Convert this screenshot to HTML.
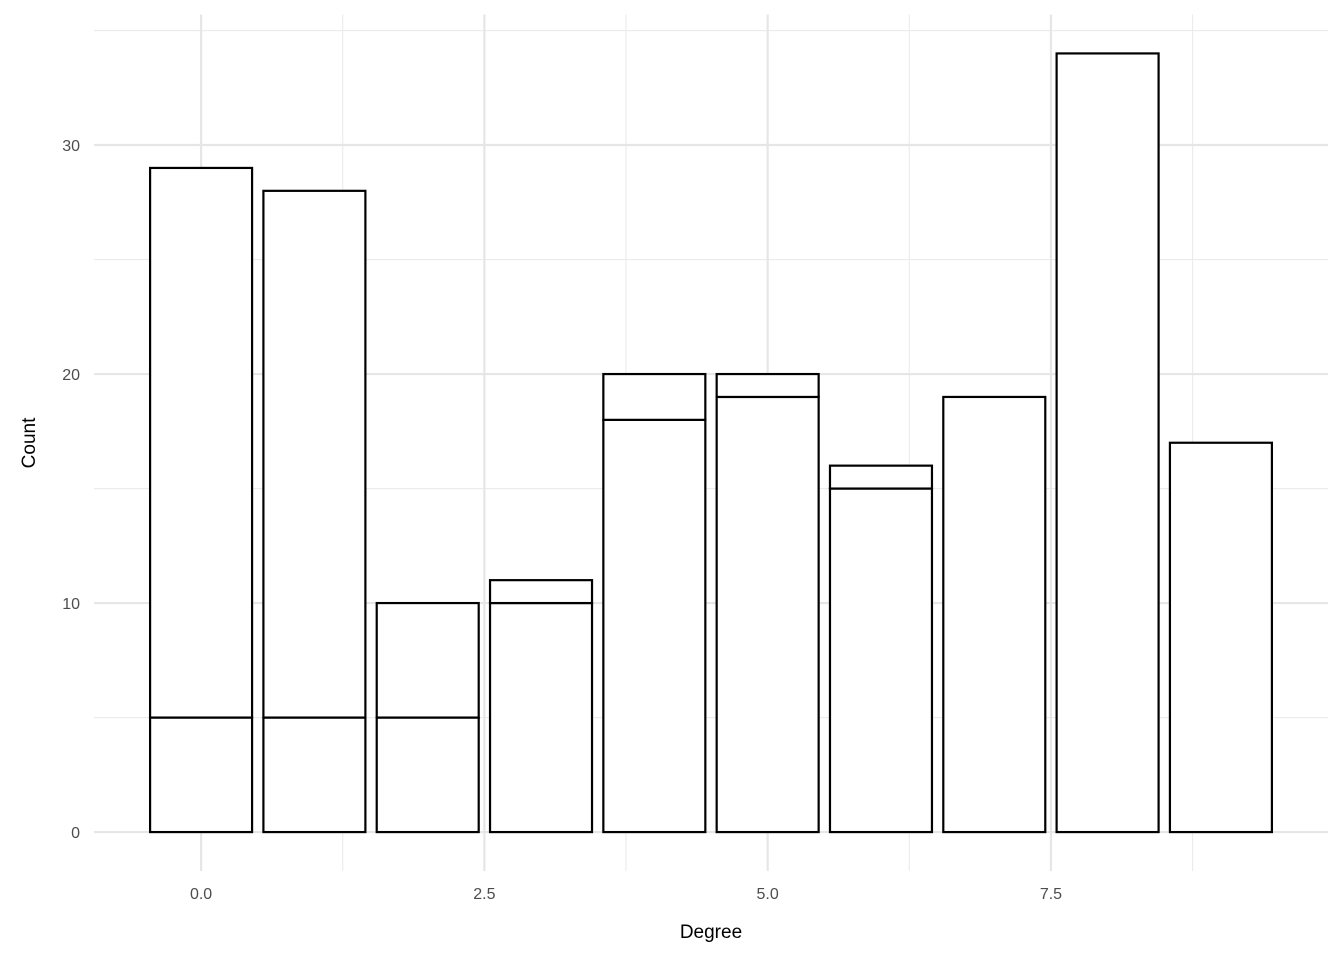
<!DOCTYPE html>
<html><head><meta charset="utf-8"><style>
html,body{margin:0;padding:0;background:#fff;}
svg text{font-family:"Liberation Sans","DejaVu Sans",sans-serif;}
</style></head><body>
<svg id="chart" width="1344" height="960" xmlns="http://www.w3.org/2000/svg">
<g id="grid"></g>
<g id="bars"></g>
<g id="axes"></g>
<text x="711" y="938" font-size="19" text-anchor="middle" fill="#000">Degree</text>
<text x="0" y="0" font-size="19" text-anchor="middle" fill="#000" transform="translate(35,443) rotate(-90)">Count</text>
</svg>
<script>
const categories=[0,1,2,3,4,5,6,7,8,9];
const lowerValues=[5,5,5,10,18,19,15,19,34,17];
const upperValues=[24,23,5,1,2,1,1,0,0,0];
const xTicks=[0,2.5,5,7.5];
const xTickLabels=["0.0","2.5","5.0","7.5"];
const yTicks=[0,10,20,30];
const yTickLabels=["0","10","20","30"];
const xMinor=[1.25,3.75,6.25,8.75];
const yMinor=[5,15,25,35];

const panelLeft=94,panelRight=1328,panelTop=14.5,panelBottom=871;
const xMin=-0.945,xMax=9.945,yMin=-1.7,yMax=35.7;
const xs=v=>panelLeft+(v-xMin)/(xMax-xMin)*(panelRight-panelLeft);
const ys=v=>panelBottom-(v-yMin)/(yMax-yMin)*(panelBottom-panelTop);
const NS="http://www.w3.org/2000/svg";
function mk(tag,parent,attrs){const e=document.createElementNS(NS,tag);for(const k in attrs)e.setAttribute(k,attrs[k]);parent.appendChild(e);return e;}
const gridG=document.getElementById('grid'),barsG=document.getElementById('bars'),axesG=document.getElementById('axes');
yMinor.forEach(v=>{const l=mk('line',gridG,{x1:panelLeft,x2:panelRight,y1:ys(v),y2:ys(v),stroke:'#ebebeb','stroke-width':1.1});

});
xMinor.forEach(v=>{const l=mk('line',gridG,{x1:xs(v),x2:xs(v),y1:panelTop,y2:panelBottom,stroke:'#ebebeb','stroke-width':1.1});

});
yTicks.forEach((v,i)=>{const l=mk('line',gridG,{x1:panelLeft,x2:panelRight,y1:ys(v),y2:ys(v),stroke:'#e6e6e6','stroke-width':2.2});


const t=mk('text',axesG,{x:80,y:ys(v)+6,'font-size':16,'text-anchor':'end',fill:'#4d4d4d'});t.textContent=yTickLabels[i];

});
xTicks.forEach((v,i)=>{const l=mk('line',gridG,{x1:xs(v),x2:xs(v),y1:panelTop,y2:panelBottom,stroke:'#e6e6e6','stroke-width':2.2});


const t=mk('text',axesG,{x:xs(v),y:899,'font-size':16,'text-anchor':'middle',fill:'#4d4d4d'});t.textContent=xTickLabels[i];

});
categories.forEach((c,i)=>{
 const x0=xs(c-0.45),x1=xs(c+0.45);
 const lo=lowerValues[i],up=upperValues[i];
 const r1=mk('rect',barsG,{x:x0,y:ys(lo),width:x1-x0,height:ys(0)-ys(lo),fill:'#fff',stroke:'#000','stroke-width':2.2});
 
 
 if(up>0){const r2=mk('rect',barsG,{x:x0,y:ys(lo+up),width:x1-x0,height:ys(lo)-ys(lo+up),fill:'#fff',stroke:'#000','stroke-width':2.2});
 
 }
});
</script>
</body></html>
